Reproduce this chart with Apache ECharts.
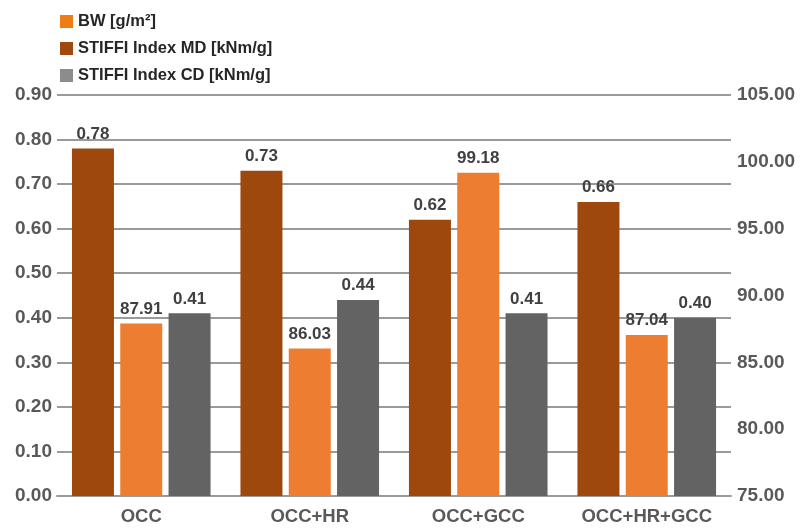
<!DOCTYPE html>
<html>
<head>
<meta charset="utf-8">
<script src="https://cdn.jsdelivr.net/npm/echarts@6/dist/echarts.min.js"></script>
<style>
html,body{margin:0;padding:0;background:#fff;}
#c{width:802px;height:529px;}
</style>
</head>
<body>
<div id="c"></div>
<script>
var categories = ['OCC', 'OCC+HR', 'OCC+GCC', 'OCC+HR+GCC'];
var bwValues = [87.91, 86.03, 99.18, 87.04];
var mdValues = [0.78, 0.73, 0.62, 0.66];
var cdValues = [0.41, 0.44, 0.41, 0.40];
var seriesNames = ['BW [g/m²]', 'STIFFI Index MD [kNm/g]', 'STIFFI Index CD [kNm/g]'];

var font = 'Liberation Sans, Arial, sans-serif';
var chart = echarts.init(document.getElementById('c'));

function valLabel(dec) {
  return {
    show: true, position: 'top', distance: 6,
    fontFamily: font, fontSize: 17, fontWeight: 'bold', color: '#404040',
    formatter: function (p) { return p.value.toFixed(dec); }
  };
}

chart.setOption({
  animation: false,
  backgroundColor: '#fff',
  legend: {
    orient: 'vertical', left: 55, top: 8,
    itemWidth: 13, itemHeight: 13, itemGap: 10,
    icon: 'rect',
    textStyle: { fontFamily: font, fontSize: 16.5, fontWeight: 'bold', color: '#262626' },
    data: [
      { name: seriesNames[0], itemStyle: { color: '#F07C16' } },
      { name: seriesNames[1], itemStyle: { color: '#A0480E' } },
      { name: seriesNames[2], itemStyle: { color: '#8C8C8C' } }
    ]
  },
  grid: { left: 57, right: 71, top: 95, bottom: 33 },
  xAxis: {
    type: 'category', data: categories,
    axisLine: { lineStyle: { color: '#9a9a9a', width: 2 } },
    axisTick: { show: false },
    axisLabel: { interval: 0, hideOverlap: false, fontFamily: font, fontSize: 18.5, fontWeight: 'bold', color: '#595959', margin: 11 }
  },
  yAxis: [
    {
      type: 'value', min: 0, max: 0.9, interval: 0.1,
      axisLine: { show: false }, axisTick: { show: false },
      splitLine: { lineStyle: { color: '#9a9a9a', width: 2 } },
      axisLabel: { fontFamily: font, fontSize: 19, fontWeight: 'bold', color: '#595959', margin: 5,
        formatter: function (v) { return v.toFixed(2); } }
    },
    {
      type: 'value', min: 75, max: 105, interval: 5, position: 'right',
      axisLine: { show: false }, axisTick: { show: false },
      splitLine: { show: false },
      axisLabel: { fontFamily: font, fontSize: 19, fontWeight: 'bold', color: '#595959', margin: 6,
        formatter: function (v) { return v.toFixed(2); } }
    }
  ],
  series: [
    { name: seriesNames[1], type: 'bar', yAxisIndex: 0, data: mdValues,
      barWidth: 42, barGap: '15%', itemStyle: { color: '#9E480E' }, label: valLabel(2) },
    { name: seriesNames[0], type: 'bar', yAxisIndex: 1, data: bwValues,
      barWidth: 42, barGap: '15%', itemStyle: { color: '#ED7D31' }, label: valLabel(2) },
    { name: seriesNames[2], type: 'bar', yAxisIndex: 0, data: cdValues,
      barWidth: 42, barGap: '15%', itemStyle: { color: '#636363' }, label: valLabel(2) }
  ]
});
</script>
</body>
</html>
